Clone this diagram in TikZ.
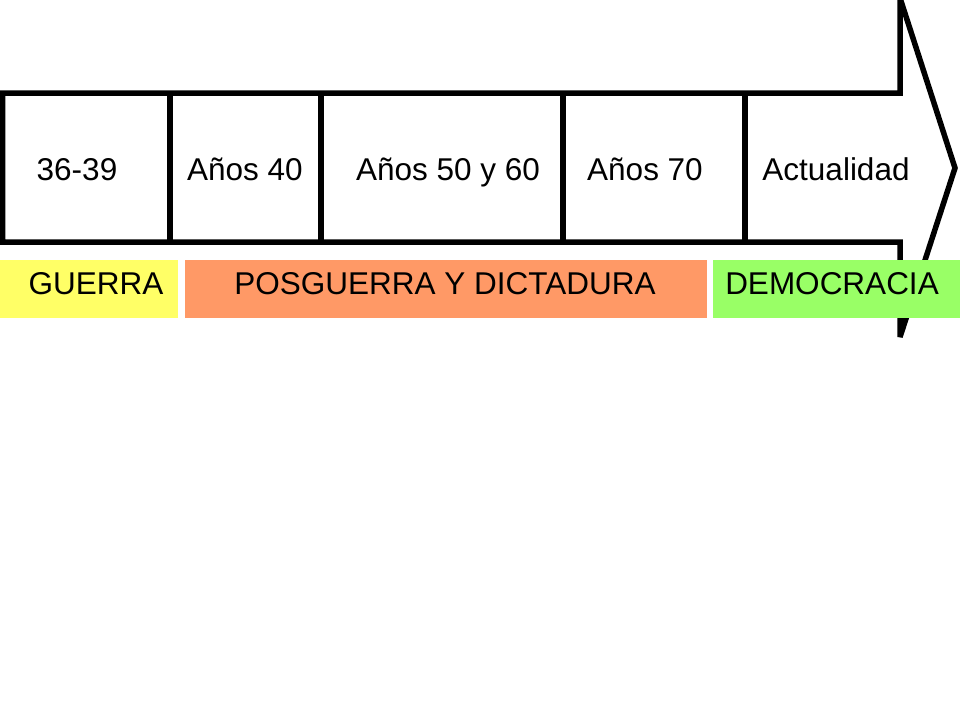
\documentclass[tikz,border=0pt]{standalone}
\usepackage{fontspec}
\setmainfont{Liberation Sans}
\definecolor{cyel}{HTML}{FFFF66}
\definecolor{cora}{HTML}{FF9966}
\definecolor{cgrn}{HTML}{99FF66}
\begin{document}
\begin{tikzpicture}[x=1pt,y=-1pt,
  outline/.style={draw=black,line width=5.5pt,line join=miter,miter limit=3.3},
  divider/.style={draw=black,line width=5.5pt},
  lbl/.style={font=\fontsize{31.5}{36}\selectfont,text=black,inner sep=0pt,anchor=base}]
\useasboundingbox (0,0) rectangle (960,720);
\clip (0,0) rectangle (960,720);
\fill[white] (0,0) rectangle (960,720);
% arrow
\draw[outline] (2.5,93) -- (900,93) -- (900,-2) -- (955,168) -- (900,337) -- (900,242) -- (2.5,242) -- cycle;
% dividers
\draw[divider] (170,93) -- (170,240);
\draw[divider] (321,93) -- (321,240);
\draw[divider] (563,93) -- (563,240);
\draw[divider] (745,93) -- (745,240);
% period labels
\node[lbl] (p1) at (77,180) {36-39};
\node[lbl] (p2) at (245,180) {Años 40};
\node[lbl] (p3) at (448,180) {Años 50 y 60};
\node[lbl] (p4) at (645,180) {Años 70};
\node[lbl] (p5) at (836,180) {Actualidad};
% bands
\fill[cyel] (0,260) rectangle (178,318);
\fill[cora] (185,260) rectangle (707,318);
\fill[cgrn] (713,260) rectangle (960,318);
\node[lbl] (b1) at (96,294) {GUERRA};
\node[lbl] (b2) at (445,294) {POSGUERRA Y DICTADURA};
\node[lbl] (b3) at (832,294) {DEMOCRACIA};
\end{tikzpicture}
\end{document}
